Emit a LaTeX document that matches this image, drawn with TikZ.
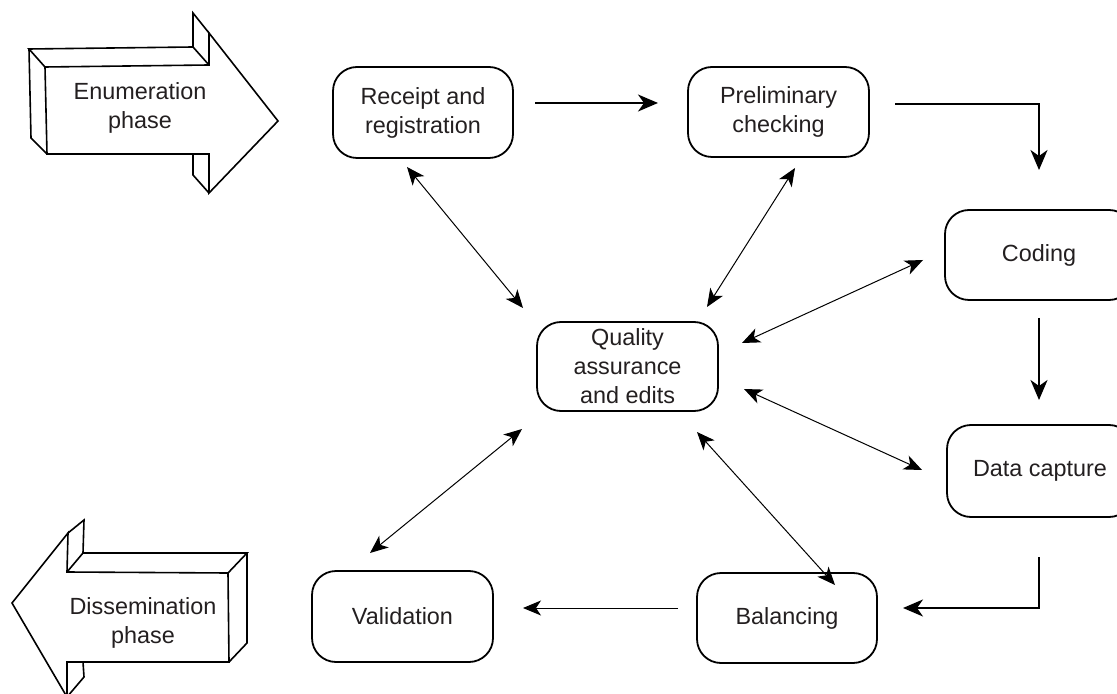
\documentclass[tikz,border=0pt]{standalone}
\usepackage{fontspec}
\setmainfont{Liberation Sans}
\usetikzlibrary{arrows.meta}
\definecolor{txt}{HTML}{231F20}
\begin{document}
\begin{tikzpicture}[x=0.5pt,y=-0.5pt,
  box/.style={draw, line width=0.9pt, rounded corners=12pt, inner sep=0pt, align=center,
    font=\fontsize{11.7}{14.5}\selectfont, text=txt},
  lbl/.style={align=center, inner sep=0pt, font=\fontsize{11.7}{14.5}\selectfont, text=txt},
  flow/.style={line width=1pt, -{Stealth[length=10pt,width=8.5pt,inset=3pt]}},
  thinflow/.style={line width=0.5pt, -{Stealth[length=9pt,width=7.5pt,inset=2.5pt]}},
  link/.style={line width=0.5pt, {Stealth[length=9pt,width=7.5pt,inset=2.5pt]}-{Stealth[length=9pt,width=7.5pt,inset=2.5pt]}},
  bigarrow/.style={line width=0.8pt, line join=miter}]
\useasboundingbox (0,0) rectangle (1117,694);
\begin{scope}
\clip (0,0) rectangle (1117,694);

% 3D arrow: Enumeration phase
\draw[bigarrow] (45,67) -- (209,65) -- (209,33) -- (278,121) -- (209,193) -- (209,154) -- (47,154) -- cycle;
\draw[bigarrow] (45,67) -- (29,49) -- (193,47) -- (209,65);
\draw[bigarrow] (193,47) -- (193,13) -- (209,33);
\draw[bigarrow] (29,49) -- (31,138) -- (47,154);
\draw[bigarrow] (193,154) -- (193,175) -- (209,193);
\node[lbl] (enum) at (140,108) {Enumeration\\phase};

% 3D arrow: Dissemination phase
\draw[bigarrow] (228,573) -- (67,572) -- (68,533) -- (12,603) -- (67,697) -- (67,662) -- (229,662) -- cycle;
\draw[bigarrow] (67,572) -- (83,553) -- (247,553) -- (228,573);
\draw[bigarrow] (247,553) -- (247,643) -- (229,662);
\draw[bigarrow] (83,553) -- (84,520) -- (68,533);
\draw[bigarrow] (83,662) -- (84,677) -- (67,697);
\node[lbl] (diss) at (143,623) {Dissemination\\phase};

% boxes
\node[box, minimum width=90pt, minimum height=45.5pt] (rr) at (423,112.5) {Receipt and\\registration};
\node[box, minimum width=90.5pt, minimum height=45pt] (pc) at (778.5,112) {Preliminary\\checking};
\node[box, minimum width=94pt, minimum height=45pt] (cod) at (1039,255) {Coding};
\node[box, minimum width=90.5pt, minimum height=44.5pt] (qa) at (627.5,366.5) {Quality\\assurance\\and edits};
\node[box, minimum width=93pt, minimum height=46pt] (dc) at (1040,471) {Data capture};
\node[box, minimum width=90pt, minimum height=45pt] (bal) at (787,618) {Balancing};
\node[box, minimum width=90.5pt, minimum height=45.5pt] (val) at (402.5,616.5) {Validation};

% connector end points
\coordinate (rrA) at (535,103);   \coordinate (pcA) at (658,103);
\coordinate (pcB) at (895,104);   \coordinate (pcBk) at (1039,104); \coordinate (codA) at (1039,170);
\coordinate (codB) at (1039,318); \coordinate (dcA) at (1039,400);
\coordinate (dcB) at (1039,557);  \coordinate (dcBk) at (1039,608); \coordinate (balA) at (903,608);
\coordinate (balB) at (678,608);  \coordinate (valA) at (523,608);

\coordinate (qRR) at (523,308); \coordinate (rrQ) at (407,167);
\coordinate (qPC) at (707,307); \coordinate (pcQ) at (795,168);
\coordinate (qCO) at (742,343); \coordinate (coQ) at (923,260);
\coordinate (qDC) at (744,389); \coordinate (dcQ) at (922,470);
\coordinate (qBA) at (697,432); \coordinate (baQ) at (835,585);
\coordinate (qVA) at (522,429); \coordinate (vaQ) at (370,553);

% flow arrows
\draw[flow] (rrA) -- (pcA);
\draw[flow] (pcB) -- (pcBk) -- (codA);
\draw[flow] (codB) -- (dcA);
\draw[flow] (dcB) -- (dcBk) -- (balA);
\draw[thinflow] (balB) -- (valA);

% links with quality assurance
\draw[link] (qRR) -- (rrQ);
\draw[link] (qPC) -- (pcQ);
\draw[link] (qCO) -- (coQ);
\draw[link] (qDC) -- (dcQ);
\draw[link] (qBA) -- (baQ);
\draw[link] (qVA) -- (vaQ);
\end{scope}
\end{tikzpicture}
\end{document}
